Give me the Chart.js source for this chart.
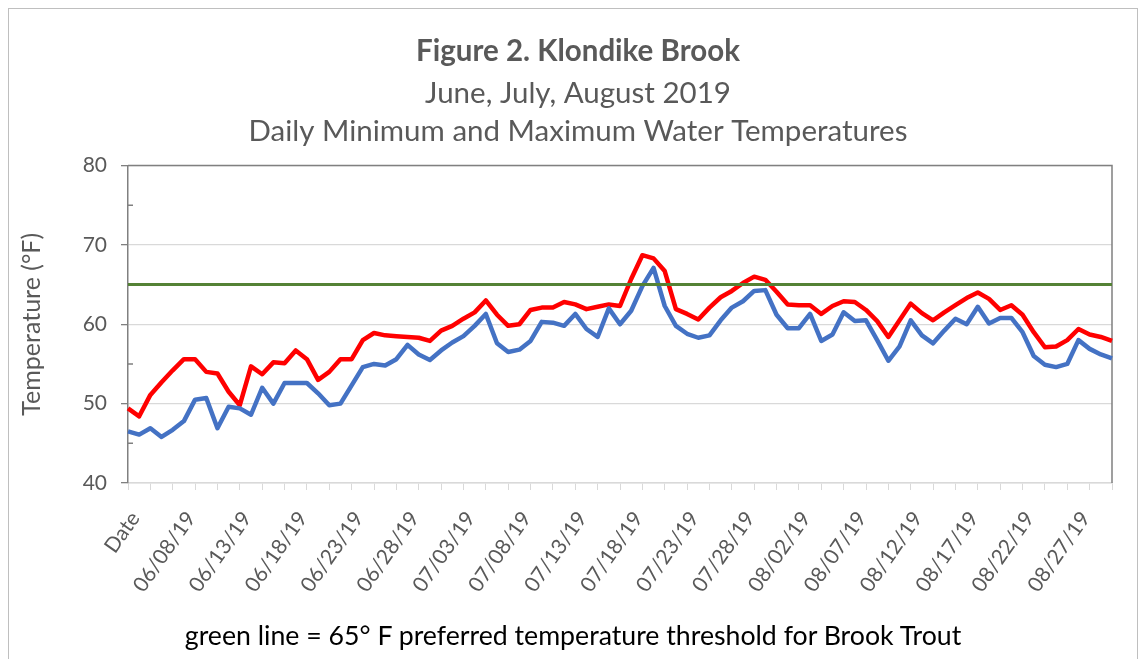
<!DOCTYPE html>
<html>
<head>
<meta charset="utf-8">
<script src="https://cdn.jsdelivr.net/npm/chart.js@4.4.0/dist/chart.umd.min.js"></script>
<style>
  html, body { margin: 0; padding: 0; background: #fff; }
  body { width: 1146px; height: 659px; position: relative; overflow: hidden; }
  #frame { position: absolute; left: 8px; top: 8px; width: 1128px; height: 700px; border: 1px solid #bfbfbf; }
  #wrap { position: absolute; left: 0; top: 0; width: 1146px; height: 659px; }
  #note { position: absolute; left: 0; top: 619px; width: 1146px; text-align: center;
          font-family: Lato, sans-serif; font-size: 26.7px; line-height: 32px; color: #000; }
</style>
</head>
<body>
<div id="frame"></div>
<div id="wrap"><canvas id="chart_temp"></canvas></div>
<div id="note">green line = 65° F preferred temperature threshold for Brook Trout</div>
<script>
// categories (first one is the sheet header that ended up in the range)
var dates = [
  'Date',
  '06/04/19', '06/05/19', '06/06/19', '06/07/19', '06/08/19', '06/09/19', '06/10/19', '06/11/19', '06/12/19',
  '06/13/19', '06/14/19', '06/15/19', '06/16/19', '06/17/19', '06/18/19', '06/19/19', '06/20/19', '06/21/19',
  '06/22/19', '06/23/19', '06/24/19', '06/25/19', '06/26/19', '06/27/19', '06/28/19', '06/29/19', '06/30/19',
  '07/01/19', '07/02/19', '07/03/19', '07/04/19', '07/05/19', '07/06/19', '07/07/19', '07/08/19', '07/09/19',
  '07/10/19', '07/11/19', '07/12/19', '07/13/19', '07/14/19', '07/15/19', '07/16/19', '07/17/19', '07/18/19',
  '07/19/19', '07/20/19', '07/21/19', '07/22/19', '07/23/19', '07/24/19', '07/25/19', '07/26/19', '07/27/19',
  '07/28/19', '07/29/19', '07/30/19', '07/31/19',
  '08/01/19', '08/02/19', '08/03/19', '08/04/19', '08/05/19', '08/06/19', '08/07/19', '08/08/19', '08/09/19',
  '08/10/19', '08/11/19', '08/12/19', '08/13/19', '08/14/19', '08/15/19', '08/16/19', '08/17/19', '08/18/19',
  '08/19/19', '08/20/19', '08/21/19', '08/22/19', '08/23/19', '08/24/19', '08/25/19', '08/26/19', '08/27/19',
  '08/28/19', '08/29/19', '08/30/19'
];

// daily maximum (red)
var temp_max = [
  49.4, 48.4, 51.1, 52.7, 54.2, 55.6, 55.6, 54.0, 53.8, 51.5,
  49.8, 54.7, 53.7, 55.2, 55.1, 56.7, 55.6, 53.0, 54.0, 55.6,
  55.6, 58.0, 58.9, 58.6, 58.5, 58.4, 58.3, 57.9, 59.2, 59.8,
  60.7, 61.5, 63.0, 61.2, 59.8, 60.0, 61.8, 62.1, 62.1, 62.8,
  62.5, 61.9, 62.2, 62.5, 62.3, 65.7, 68.7, 68.3, 66.7, 61.9,
  61.3, 60.6, 62.1, 63.4, 64.2, 65.2, 66.0, 65.6, 64.1, 62.5,
  62.4, 62.4, 61.3, 62.3, 62.9, 62.8, 61.8, 60.4, 58.4, 60.5,
  62.6, 61.4, 60.5, 61.5, 62.4, 63.3, 64.0, 63.2, 61.8, 62.4,
  61.2, 59.0, 57.1, 57.2, 58.0, 59.4, 58.7, 58.4, 57.9
];

// daily minimum (blue)
var temp_min = [
  46.5, 46.1, 46.9, 45.8, 46.7, 47.8, 50.5, 50.7, 46.9, 49.6,
  49.4, 48.6, 52.0, 50.0, 52.6, 52.6, 52.6, 51.3, 49.8, 50.0,
  52.3, 54.6, 55.0, 54.8, 55.6, 57.4, 56.2, 55.5, 56.7, 57.7,
  58.5, 59.8, 61.3, 57.6, 56.5, 56.8, 57.9, 60.3, 60.2, 59.8,
  61.3, 59.4, 58.4, 62.0, 60.0, 61.7, 64.8, 67.1, 62.3, 59.8,
  58.8, 58.3, 58.6, 60.5, 62.1, 62.9, 64.2, 64.3, 61.2, 59.5,
  59.5, 61.3, 57.9, 58.7, 61.5, 60.4, 60.5, 58.0, 55.4, 57.2,
  60.5, 58.6, 57.6, 59.2, 60.7, 60.0, 62.2, 60.1, 60.8, 60.8,
  59.0, 56.0, 54.9, 54.6, 55.0, 58.0, 56.9, 56.2, 55.7
];

// brook trout threshold (green)
var threshold = 65;

var y_min = 40;
var y_max = 80;

var font_face = 'Lato, sans-serif';
var text_gray = '#595959';

// plot area border + inside minor ticks on the value axis
var plotFrame = {
  id: 'plotFrame',
  beforeDatasetsDraw: function(chart) {
    var ctx = chart.ctx;
    var a = chart.chartArea;
    var y = chart.scales.y;
    ctx.save();
    ctx.strokeStyle = '#808080';
    ctx.lineWidth = 1.5;
    ctx.beginPath();
    ctx.moveTo(a.left, a.top);
    ctx.lineTo(a.right, a.top);
    ctx.lineTo(a.right, a.bottom);
    y.ticks.forEach(function(t) {
      if (t.value % 10 !== 0) {
        var py = y.getPixelForValue(t.value);
        ctx.moveTo(a.left, py);
        ctx.lineTo(a.left + 5, py);
      }
    });
    ctx.stroke();
    ctx.restore();
  }
};

var chart_temp_div = document.getElementById('chart_temp');

var config_temp = {
  type: 'line',
  data: {
    labels: dates,
    datasets: [
      {
        label: 'threshold',
        data: [{x: dates[0], y: threshold}, {x: dates[dates.length - 1], y: threshold}],
        borderColor: '#548235',
        borderWidth: 3,
        pointRadius: 0,
        order: 0,
      },
      {
        label: 'min',
        data: temp_min,
        borderColor: '#4472c4',
        borderWidth: 4.5,
        pointRadius: 0,
        borderJoinStyle: 'round',
        order: 1,
      },
      {
        label: 'max',
        data: temp_max,
        borderColor: '#ff0000',
        borderWidth: 4.5,
        pointRadius: 0,
        borderJoinStyle: 'round',
        order: 2,
      },
    ],
  },
  options: {
    responsive: true,
    maintainAspectRatio: false,
    animation: false,
    layout: {
      padding: {left: 14, right: 4, top: 0, bottom: 0},
    },
    scales: {
      x: {
        ticks: {
          autoSkip: false,
          maxRotation: 55,
          minRotation: 55,
          padding: 17,
          labelOffset: 7,
          color: text_gray,
          font: {family: font_face, size: 21},
          callback: function(val, i) {
            return i % 5 === 0 ? this.getLabelForValue(val) : '';
          },
        },
        grid: {
          drawOnChartArea: false,
          tickLength: 7,
          color: function(c) {
            return c.index % 2 === 0 ? '#d9d9d9' : 'rgba(0,0,0,0)';
          },
        },
        border: {color: '#d9d9d9', width: 1.5},
        afterFit: function(scale) {
          scale.height = 176;
          scale.paddingLeft = 0;
          scale.paddingRight = 0;
        },
      },
      y: {
        min: y_min,
        max: y_max,
        ticks: {
          stepSize: 5,
          padding: 14,
          color: text_gray,
          font: {family: font_face, size: 21},
          callback: function(v) {
            return v % 10 === 0 ? v : '';
          },
        },
        grid: {
          tickLength: 7,
          lineWidth: 1.3,
          color: function(c) {
            return c.tick && c.tick.value % 10 === 0 ? '#d9d9d9' : 'rgba(0,0,0,0)';
          },
          tickColor: function(c) {
            return c.tick && c.tick.value % 10 === 0 ? '#808080' : 'rgba(0,0,0,0)';
          },
        },
        border: {color: '#808080', width: 1.5},
        title: {
          display: true,
          text: 'Temperature (°F)',
          color: text_gray,
          font: {family: font_face, size: 25},
          padding: {top: 3, bottom: 0},
        },
        afterFit: function(scale) {
          scale.width = 114;
        },
      },
      // empty right-hand spacer so the titles centre on the whole chart
      spacer: {
        type: 'linear',
        position: 'right',
        display: true,
        grid: {display: false, drawTicks: false},
        ticks: {display: false},
        border: {display: false},
        afterFit: function(scale) {
          scale.width = 30;
        },
      },
    },
    plugins: {
      legend: {
        display: false,
      },
      tooltip: {
        enabled: false,
      },
      title: {
        display: true,
        text: 'Figure 2. Klondike Brook',
        color: text_gray,
        font: {family: font_face, size: 29.5, weight: 'bold', lineHeight: 1.2},
        padding: {top: 34, bottom: 0},
      },
      subtitle: {
        display: true,
        text: ['June, July, August 2019', 'Daily Minimum and Maximum Water Temperatures'],
        color: text_gray,
        font: {family: font_face, size: 29.5, lineHeight: 1.29},
        padding: {top: 5, bottom: 15},
      },
    },
  },
  plugins: [plotFrame],
};

var chart_temp = new Chart(chart_temp_div, config_temp);
</script>
</body>
</html>
